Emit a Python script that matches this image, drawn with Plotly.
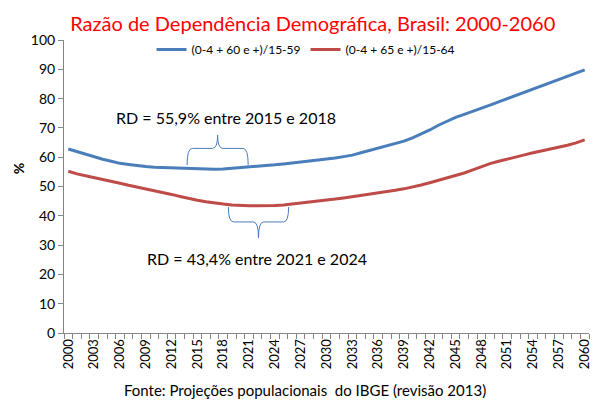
import plotly.graph_objects as go

years = list(range(2000, 2061))

rd_60 = [62.8, 61.9, 61.0, 60.1, 59.3, 58.6, 57.9, 57.5, 57.1, 56.8,
         56.6, 56.5, 56.3, 56.2, 56.1, 56.0, 55.9, 55.9, 56.0, 56.2,
         56.4, 56.7, 56.9, 57.2, 57.4, 57.7, 58.0, 58.3, 58.6, 58.9,
         59.3, 59.7, 60.2, 60.7, 61.5, 62.3, 63.0, 63.8, 64.7, 65.5,
         66.6, 67.9, 69.3, 70.9, 72.3, 73.6, 74.6, 75.6, 76.7, 77.8,
         78.9, 80.0, 81.1, 82.2, 83.3, 84.3, 85.3, 86.4, 87.5, 88.6,
         89.8]

rd_65 = [55.2, 54.3, 53.7, 53.1, 52.4, 51.7, 51.1, 50.4, 49.8, 49.3,
         48.6, 47.9, 47.3, 46.6, 45.9, 45.3, 44.8, 44.3, 44.0, 43.7,
         43.5, 43.4, 43.4, 43.4, 43.5, 43.7, 44.0, 44.3, 44.6, 44.9,
         45.3, 45.7, 46.1, 46.5, 46.9, 47.3, 47.7, 48.2, 48.7, 49.2,
         49.8, 50.5, 51.3, 52.1, 52.8, 53.6, 54.6, 55.7, 56.8, 57.8,
         58.6, 59.4, 60.1, 60.8, 61.5, 62.1, 62.7, 63.3, 64.1, 64.9,
         65.9]

series_names = ["(0-4 + 60 e +)/15-59", "(0-4 + 65 e +)/15-64"]
tick_years = list(range(2000, 2061, 3))
y_ticks = list(range(0, 101, 10))

title_text = "Razão de Dependência Demográfica, Brasil: 2000-2060"
source_text = "Fonte: Projeções populacionais  do IBGE (revisão 2013)"
note_1 = "RD = 55,9% entre 2015 e 2018"
note_2 = "RD = 43,4% entre 2021 e 2024"

FONT = "Lato"
BLUE = "#4A7EBB"
RED = "#BE4B48"
AXIS = "#868686"

fig = go.Figure()
fig.add_trace(go.Scatter(x=years, y=rd_60, mode="lines", name=series_names[0],
                         line=dict(color=BLUE, width=3)))
fig.add_trace(go.Scatter(x=years, y=rd_65, mode="lines", name=series_names[1],
                         line=dict(color=RED, width=3)))


def brace(x0, x1, y_arm, y_bar, y_tip, r=0.6):
    cx = (x0 + x1) / 2
    return (f"M {x0},{y_arm} Q {x0},{y_bar} {x0 + r},{y_bar} "
            f"L {cx - r},{y_bar} Q {cx},{y_bar} {cx},{y_tip} "
            f"Q {cx},{y_bar} {cx + r},{y_bar} "
            f"L {x1 - r},{y_bar} Q {x1},{y_bar} {x1},{y_arm}")


fig.add_shape(type="path", xref="x", yref="y",
              path=brace(2013.8, 2020.9, 57.3, 63.0, 67.6),
              line=dict(color=BLUE, width=1))
fig.add_shape(type="path", xref="x", yref="y",
              path=brace(2018.6, 2025.6, 43.0, 37.9, 32.4),
              line=dict(color=BLUE, width=1))

fig.add_annotation(x=2018.3, y=73.7, xref="x", yref="y", text=note_1,
                   showarrow=False, font=dict(family=FONT, size=16, color="black"))
fig.add_annotation(x=2021.9, y=25.3, xref="x", yref="y", text=note_2,
                   showarrow=False, font=dict(family=FONT, size=16, color="black"))

fig.add_annotation(x=-0.105, y=0.56, xref="paper", yref="paper", text="<b>%</b>",
                   textangle=-90, showarrow=False,
                   font=dict(family=FONT, size=14, color="black"))
fig.add_annotation(x=0.459, y=-0.232, xref="paper", yref="paper", text=source_text,
                   showarrow=False, font=dict(family=FONT, size=15, color="black"))

# the page body has an 8px default margin, so the figure is 8px smaller
fig.update_layout(
    width=594, height=400,
    margin=dict(l=56, r=13, t=32, b=75),
    paper_bgcolor="white", plot_bgcolor="white",
    title=dict(text=title_text, x=0.513, xanchor="center", y=0.96, yanchor="middle",
               font=dict(family=FONT, size=20, color="#FF0000")),
    showlegend=True,
    legend=dict(orientation="h", x=0.461, xanchor="center", y=0.968, yanchor="middle",
                font=dict(family=FONT, size=12, color="black"),
                bgcolor="rgba(0,0,0,0)", tracegroupgap=0),
    font=dict(family=FONT, color="black"),
)

fig.update_xaxes(range=[1999.5, 2060.5], tickvals=tick_years, tickangle=-90,
                 ticks="", showgrid=False, zeroline=False, showline=True,
                 linecolor=AXIS, linewidth=1, automargin=False,
                 tickfont=dict(family=FONT, size=13, color="black"),
                 minor=dict(tick0=1999.5, dtick=1, ticks="outside", ticklen=5,
                            tickcolor=AXIS, showgrid=False))
fig.update_yaxes(range=[0, 100], tickvals=y_ticks, ticks="outside", ticklen=5,
                 tickcolor=AXIS, showgrid=False, zeroline=False, showline=True,
                 linecolor=AXIS, linewidth=1, automargin=False,
                 tickfont=dict(family=FONT, size=14, color="black"))

fig.write_html("out.html")
